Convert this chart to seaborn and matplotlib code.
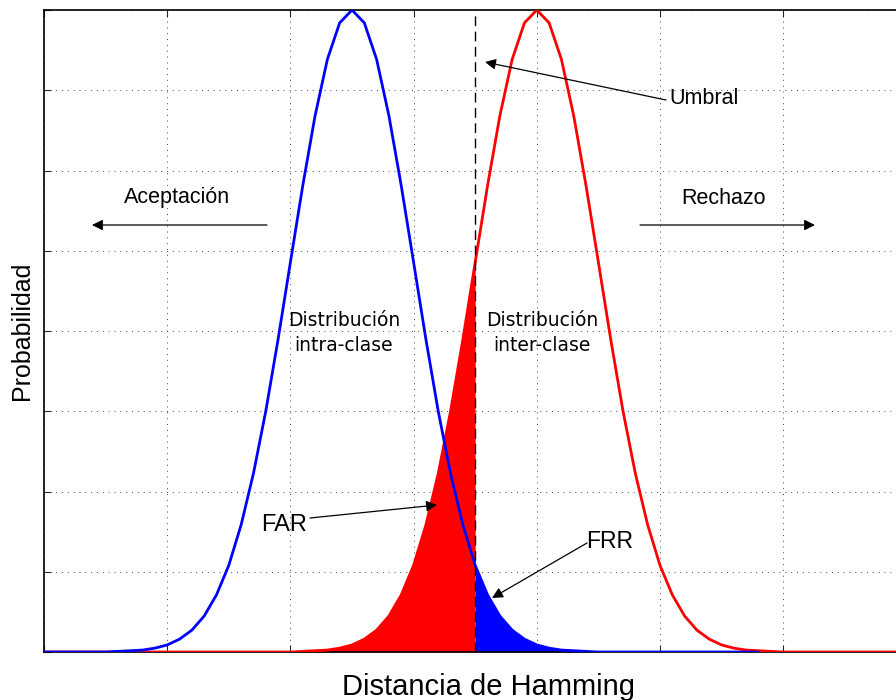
import numpy as np
import pandas as pd
import seaborn as sns
import matplotlib.pyplot as plt

# Hamming distance samples (one unit = 1/10 of a grid cell)
x_intra = list(range(0, 59))
p_intra = [0.000, 0.000, 0.000, 0.000, 0.000, 0.000, 0.001, 0.002, 0.003, 0.006,
           0.011, 0.020, 0.034, 0.056, 0.089, 0.135, 0.198, 0.278, 0.375, 0.487,
           0.607, 0.726, 0.835, 0.923, 0.980, 1.000, 0.980, 0.923, 0.835, 0.726,
           0.607, 0.487, 0.375, 0.278, 0.198, 0.135, 0.089, 0.056, 0.034, 0.020,
           0.011, 0.006, 0.003, 0.002, 0.001, 0.000, 0.000, 0.000, 0.000, 0.000,
           0.000, 0.000, 0.000, 0.000, 0.000, 0.000, 0.000, 0.000, 0.000]

x_inter = list(range(0, 74))
p_inter = [0.000, 0.000, 0.000, 0.000, 0.000, 0.000, 0.000, 0.000, 0.000, 0.000,
           0.000, 0.000, 0.000, 0.000, 0.000, 0.000, 0.000, 0.000, 0.000, 0.000,
           0.000, 0.001, 0.002, 0.003, 0.006, 0.011, 0.020, 0.034, 0.056, 0.089,
           0.135, 0.198, 0.278, 0.375, 0.487, 0.607, 0.726, 0.835, 0.923, 0.980,
           1.000, 0.980, 0.923, 0.835, 0.726, 0.607, 0.487, 0.375, 0.278, 0.198,
           0.135, 0.089, 0.056, 0.034, 0.020, 0.011, 0.006, 0.003, 0.002, 0.001,
           0.000, 0.000, 0.000, 0.000, 0.000, 0.000, 0.000, 0.000, 0.000, 0.000,
           0.000, 0.000, 0.000, 0.000]

threshold = 35

intra = pd.DataFrame({'dist': x_intra, 'prob': p_intra})
inter = pd.DataFrame({'dist': x_inter, 'prob': p_inter})

sns.set_style('ticks')
plt.rcParams['font.family'] = ['Liberation Sans', 'DejaVu Sans']
plt.rcParams['text.color'] = 'black'
plt.rcParams['axes.labelcolor'] = 'black'

fig = plt.figure(figsize=(8.96, 7.0), dpi=100)
ax = fig.add_axes([44 / 896, 48 / 700, 862.4 / 896, 642 / 700])

# shaded error areas
far = inter[inter['dist'] <= threshold]
frr = intra[intra['dist'] >= threshold]
ax.fill_between(far['dist'], 0, far['prob'], color='#ff0000', lw=0, zorder=2)
ax.fill_between(frr['dist'], 0, frr['prob'], color='#0000ff', lw=0, zorder=2)

sns.lineplot(data=inter, x='dist', y='prob', color='#ff0000', lw=2, ax=ax, zorder=3)
sns.lineplot(data=intra, x='dist', y='prob', color='#0000ff', lw=2, ax=ax, zorder=4)

ax.plot([threshold, threshold], [0, 1], color='black', ls=(0, (7, 4)), lw=1, zorder=5)

ax.set_xlim(0, 70)
ax.set_ylim(0, 1)
ax.set_xticks(np.arange(0, 71, 10))
ax.set_yticks(np.linspace(0, 1, 9))
ax.tick_params(direction='in', length=5, width=0.8, top=True, right=True,
               labelbottom=False, labelleft=False)
ax.grid(True, ls=(0, (1, 5)), color='#444444', lw=0.7)
for s in ax.spines.values():
    s.set_linewidth(1.2)
    s.set_color('black')

ax.set_xlabel('Distancia de Hamming', fontsize=21)
ax.xaxis.set_label_coords(0.515, -0.033)
ax.set_ylabel('Probabilidad', fontsize=18)
ax.yaxis.label.set(va='center', ha='center')
ax.yaxis.set_label_coords(-0.0255, 0.5)


def px(xp, yp):
    return ((xp - 44) / 12.32, (652 - yp) / 642)


arrow = dict(arrowstyle='-|>', color='black', lw=0.9, mutation_scale=16,
             shrinkA=0, shrinkB=0)

ax.text(*px(177, 198), 'Aceptación', fontsize=15.5, ha='center', va='center')
ax.annotate('', xy=px(92, 225), xytext=px(267, 225), arrowprops=arrow)
ax.text(*px(723, 199), 'Rechazo', fontsize=15.5, ha='center', va='center')
ax.annotate('', xy=px(815, 225), xytext=px(640, 225), arrowprops=arrow)

ax.text(*px(669, 99), 'Umbral', fontsize=15.5, ha='left', va='center')
ax.annotate('', xy=px(485, 62), xytext=px(666, 100), arrowprops=arrow)
ax.text(*px(284, 525), 'FAR', fontsize=17, ha='center', va='center')
ax.annotate('', xy=px(437, 505), xytext=px(310, 518), arrowprops=arrow)
ax.text(*px(610, 541), 'FRR', fontsize=16.5, ha='center', va='center')
ax.annotate('', xy=px(492, 598), xytext=px(587, 543), arrowprops=arrow)

ax.text(*px(344, 333), 'Distribución\nintra-clase', fontsize=13.5, ha='center',
        va='center', family='DejaVu Sans', linespacing=1.35, zorder=6)
ax.text(*px(542, 333), 'Distribución\ninter-clase', fontsize=13.5, ha='center',
        va='center', family='DejaVu Sans', linespacing=1.35, zorder=6)

fig.savefig('out.png', dpi=100)
